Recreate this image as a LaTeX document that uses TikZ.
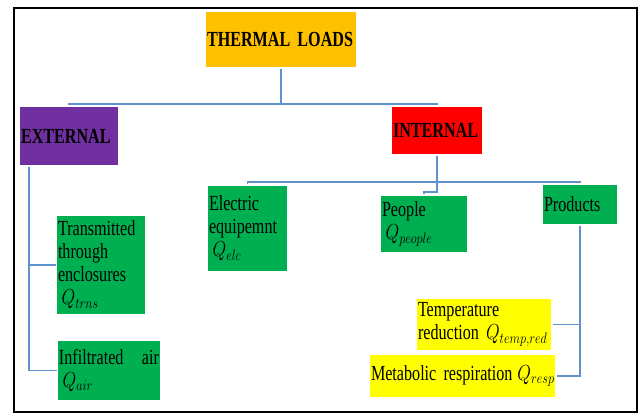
\documentclass[tikz,border=0pt]{standalone}
\usepackage{fontspec}
\setmainfont{Liberation Serif}[FakeStretch=0.75,WordSpace=0.8]
\usepackage{tikz}
\definecolor{loadorange}{HTML}{FFC000}
\definecolor{loadpurple}{HTML}{7030A0}
\definecolor{loadgreen}{HTML}{00B050}
\definecolor{loadyellow}{HTML}{FFFF00}
\definecolor{linkblue}{RGB}{95,145,205}
\newcommand{\qload}[1]{\scalebox{0.85}[1.05]{$Q_{#1}$}}

\begin{document}
\begin{tikzpicture}[x=1pt,y=-1pt,
	blk/.style={anchor=north west,inner xsep=1pt,inner ysep=0pt,outer sep=0pt,align=left,font=\fontsize{21.5}{23}\selectfont},
	head/.style={blk,font=\fontsize{21.5}{23}\selectfont\bfseries},
	link/.style={draw=linkblue,line width=1.4pt,shorten <=2pt,shorten >=1.5pt}]
		\useasboundingbox (0,0) rectangle (641,417);
		\draw[line width=2.5pt] (14,8) rectangle (637,412);

		\node[head,fill=loadorange,text width=148pt,minimum height=55pt] (thermal) at (206,12) {THERMAL LOADS};
		\node[head,fill=loadpurple,text width=96pt,minimum height=58pt] (external) at (20,107) {EXTERNAL};
		\node[head,fill=red,text width=88pt,minimum height=47pt] (internal) at (392,107) {INTERNAL};

		\node[blk,fill=loadgreen,text width=77pt,minimum height=85pt] (electric) at (208,186) {Electric\\equipemnt\\ \,\qload{elc}};
		\node[blk,fill=loadgreen,text width=84pt,minimum height=56pt] (people) at (381,196) {People\\ \,\qload{people}};
		\node[blk,fill=loadgreen,text width=72pt,minimum height=39pt] (products) at (543,185) {Products};

		\node[blk,fill=loadgreen,text width=86pt,minimum height=98pt] (transmitted) at (57,216) {Transmitted\\through\\enclosures\\ \,\qload{trns}};
		\node[blk,fill=loadgreen,text width=100pt,minimum height=59pt] (infiltrated) at (58,341) {Infiltrated \hfill air\\ \,\qload{air}};

		\node[blk,fill=loadyellow,text width=132pt,minimum height=51pt] (tempred) at (417,299) {Temperature\\reduction \qload{temp,red}};
		\node[blk,fill=loadyellow,text width=183pt,minimum height=42pt] (metabolic) at (370,355) {\mbox{Metabolic respiration\hspace{5pt}\qload{resp}}};

		\draw[link] (thermal.south) -- ++(0,37) -| (external.north);
		\draw[link] (thermal.south) -- ++(0,37) -| (internal.north);

		\draw[link] (internal.south) -- ++(0,28) -| (electric.north);
		\draw[link] (internal.south) -- ++(0,28) -| (products.north);
		\draw[link] (internal.south) -- ++(0,38) -| (people.north);

		\coordinate (extstem) at ([xshift=9pt]external.south west);
		\draw[link] (extstem) |- (transmitted.west);
		\draw[link] (extstem) |- (infiltrated.west);

		\draw[link] (products.south) |- (tempred.east);
		\draw[link] (products.south) |- (metabolic.east);
\end{tikzpicture}
\end{document}
